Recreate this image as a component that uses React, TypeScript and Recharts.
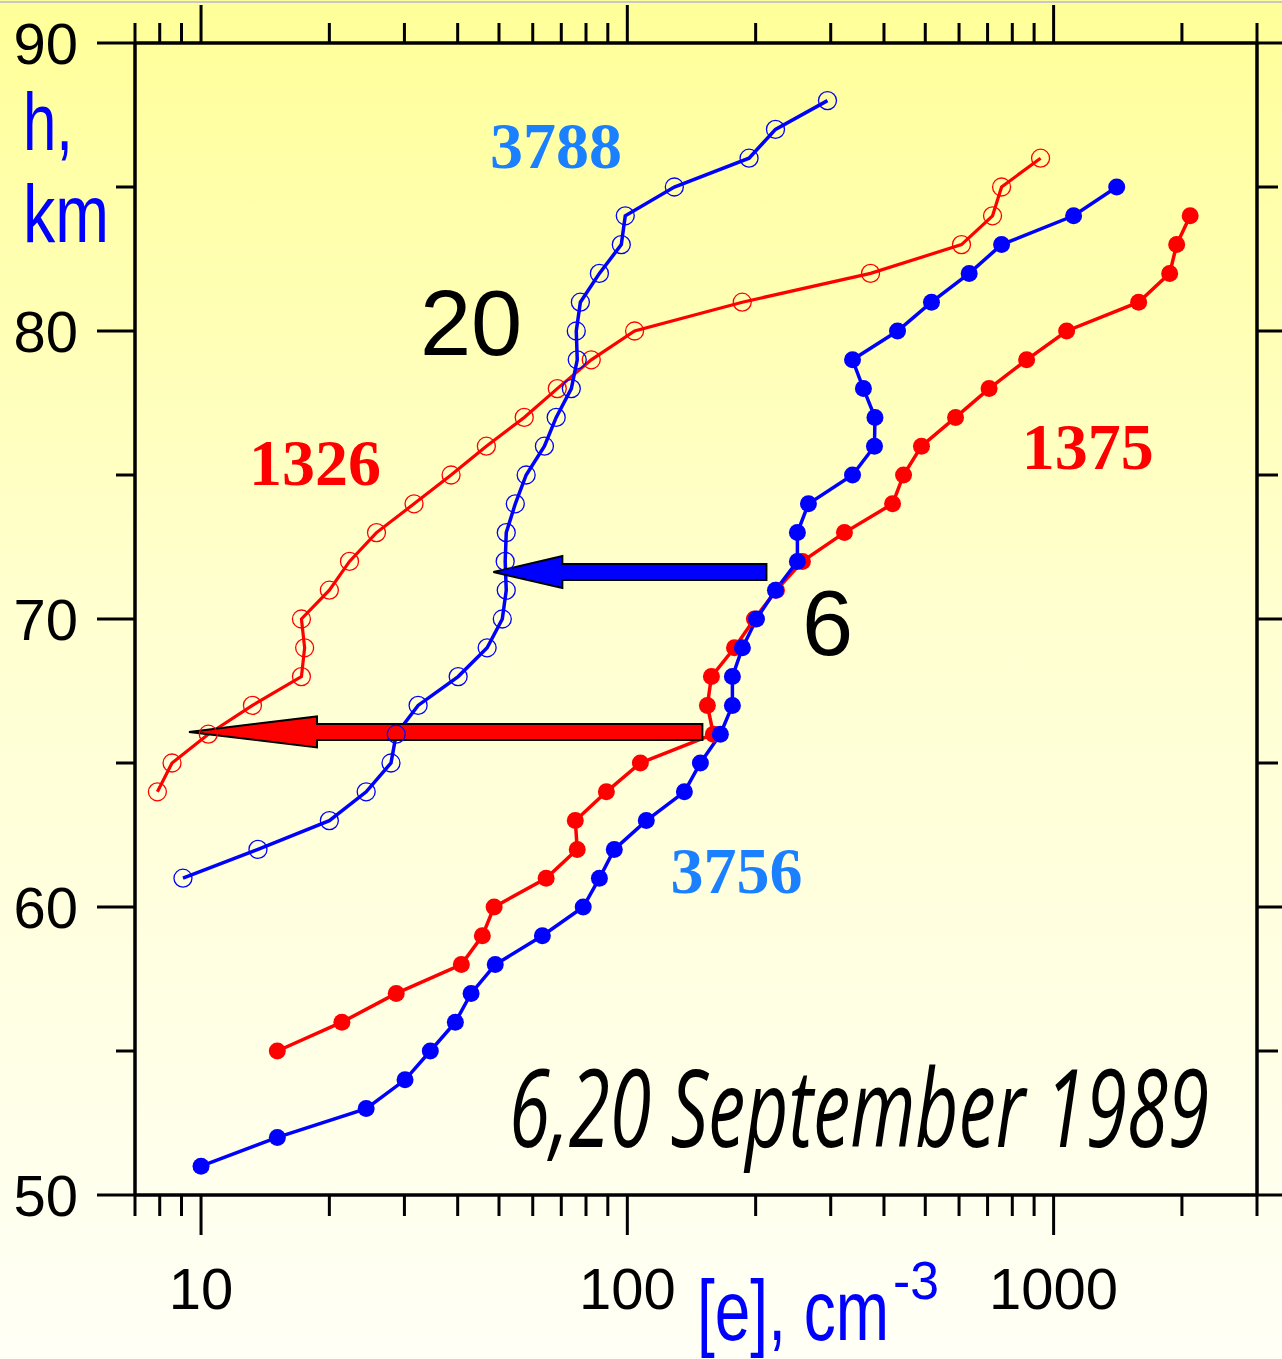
import React from "react";
import { ComposedChart, Line, XAxis, YAxis, ReferenceLine, ReferenceDot } from "recharts";

// Electron density profiles [e] vs altitude, 6 and 20 September 1989.
// Open circles = 20 Sep (1326 red, 3788 blue), filled = 6 Sep (1375 red, 3756 blue).

const xTicks = [7, 8, 9, 10, 20, 30, 40, 50, 60, 70, 80, 90, 100, 200, 300, 400, 500, 600, 700, 800, 900, 1000, 2000, 3000];
const xMajor = [10, 100, 1000];
const yTicks = [50, 55, 60, 65, 70, 75, 80, 85, 90];
const yMajor = [50, 60, 70, 80, 90];

const h1326 = [64, 65, 66, 67, 68, 69, 70, 71, 72, 73, 74, 75, 76, 77, 78, 79, 80, 81, 82, 83, 84, 85, 86];
const e1326 = [7.9, 8.55, 10.4, 13.2, 17.2, 17.5, 17.2, 20.0, 22.3, 25.8, 31.6, 38.6, 46.7, 57.3, 68.5, 82.3, 104, 186, 372, 608, 719, 755, 932];

const h3788 = [61, 62, 63, 64, 65, 66, 67, 68, 69, 70, 71, 72, 73, 74, 75, 76, 77, 78, 79, 80, 81, 82, 83, 84, 85, 86, 87, 88];
const e3788 = [9.07, 13.6, 20.0, 24.4, 27.9, 28.7, 32.3, 40.1, 46.9, 50.9, 52.0, 51.7, 52.0, 54.6, 57.9, 63.9, 68.1, 73.9, 76.3, 75.9, 77.6, 86.0, 96.8, 98.9, 128.9, 193, 222.6, 294.8];

const h1375 = [55, 56, 57, 58, 59, 60, 61, 62, 63, 64, 65, 66, 67, 68, 69, 70, 71, 72, 73, 74, 75, 76, 77, 78, 79, 80, 81, 82, 83, 84];
const e1375 = [15.1, 21.4, 28.7, 40.8, 45.7, 48.7, 64.5, 76.3, 75.5, 89.3, 107.3, 159.2, 154.1, 157.5, 178.4, 198.7, 223.8, 257.5, 323.1, 419, 444.6, 489.8, 588.8, 705.8, 864.3, 1073, 1583, 1872, 1944, 2091];

const h3756 = [51, 52, 53, 54, 55, 56, 57, 58, 59, 60, 61, 62, 63, 64, 65, 66, 67, 68, 69, 70, 71, 72, 73, 74, 75, 76, 77, 78, 79, 80, 81, 82, 83, 84, 85];
const e3756 = [10.0, 15.1, 24.4, 30.1, 34.5, 39.5, 43.0, 49.0, 63.2, 78.8, 86.0, 93.2, 110.8, 136.1, 148.4, 165.3, 176.4, 176.4, 186.2, 200.9, 222.6, 250.6, 250.6, 266.0, 337.5, 380, 381, 358, 337.5, 430.4, 517, 633.8, 755, 1114, 1406];

const rows = (hs: number[], es: number[]) => hs.map((h, i) => ({ x: es[i], h }));

// arrows: tail density -> tip density at altitude h
const arrows = [
  { from: 212, to: 48.5, h: 71.63, color: "#0000ff" },
  { from: 150, to: 9.37, h: 66.08, color: "#ff0000" },
];

const labels = [
  { text: "3788", x: 68, h: 85.66, kind: "num", color: "#1a80ff" },
  { text: "1326", x: 18.5, h: 74.65, kind: "num", color: "#ff0000" },
  { text: "1375", x: 1202, h: 75.21, kind: "num", color: "#ff0000" },
  { text: "3756", x: 180.3, h: 60.49, kind: "num", color: "#1a80ff" },
  { text: "20", x: 43, h: 79.17, kind: "day", color: "#000" },
  { text: "6", x: 294.8, h: 68.75, kind: "day", color: "#000" },
];

const SANS = "'Liberation Sans', Arial, sans-serif";
const SERIF = "'Liberation Serif', 'Times New Roman', serif";

const arrowGeom: Record<string, { len: number; head: number; shaft: number }> = {
  "#0000ff": { len: 69, head: 16, shaft: 8 },
  "#ff0000": { len: 128, head: 15.5, shaft: 8 },
};

function Arrow(p: any) {
  const { x1, x2, y1 } = p;
  const g = arrowGeom[p.color];
  const hb = x2 + g.len;
  const pts = [
    [x1, y1 - g.shaft], [hb, y1 - g.shaft], [hb, y1 - g.head], [x2, y1],
    [hb, y1 + g.head], [hb, y1 + g.shaft], [x1, y1 + g.shaft],
  ].map((q) => q.join(",")).join(" ");
  return <polygon points={pts} fill={p.color} stroke="#000" strokeWidth={2} />;
}

function BottomTick(p: any) {
  const v = p.payload.value;
  const major = xMajor.includes(v);
  return (
    <g>
      <line x1={p.x} x2={p.x} y1={p.y} y2={p.y + (major ? 40 : 21)} stroke="#000" strokeWidth={3} />
      {major && (
        <text x={p.x} y={p.y + 114} textAnchor="middle" fontFamily={SANS} fontSize={58} fill="#000">{v}</text>
      )}
    </g>
  );
}

function TopTick(p: any) {
  const major = xMajor.includes(p.payload.value);
  return <line x1={p.x} x2={p.x} y1={p.y} y2={p.y - (major ? 38 : 20)} stroke="#000" strokeWidth={3} />;
}

function LeftTick(p: any) {
  const v = p.payload.value;
  const major = yMajor.includes(v);
  return (
    <g>
      <line x1={p.x} x2={p.x - (major ? 38 : 19)} y1={p.y} y2={p.y} stroke="#000" strokeWidth={3} />
      {major && (
        <text x={p.x - 57} y={p.y + 21} textAnchor="end" fontFamily={SANS} fontSize={58} fill="#000">{v}</text>
      )}
    </g>
  );
}

function RightTick(p: any) {
  const major = yMajor.includes(p.payload.value);
  return <line x1={p.x} x2={p.x + (major ? 26 : 21)} y1={p.y} y2={p.y} stroke="#000" strokeWidth={3} />;
}

function Label(p: any) {
  const l = p.lab;
  const num = l.kind === "num";
  return (
    <text
      x={p.cx}
      y={p.cy}
      textAnchor="middle"
      fontFamily={num ? SERIF : SANS}
      fontWeight={num ? 700 : 400}
      fontSize={num ? 66 : 92}
      fill={l.color}
    >
      {l.text}
    </text>
  );
}

// condensed text: squeeze horizontally so the measured box matches what is drawn
function Narrow(props: { x: number; y: number; sx: number; w: number; size: number; children: string; style?: any }) {
  const { x, y, sx, w, size, children, style } = props;
  return (
    <text
      transform={`translate(${x},${y}) scale(${sx},1)`}
      x={0}
      y={0}
      fontSize={size}
      textLength={w / sx}
      lengthAdjust="spacingAndGlyphs"
      {...style}
    >
      {children}
    </text>
  );
}

const openDot = (c: string) => ({ r: 9, fill: "none", stroke: c, strokeWidth: 1.3 });
const fullDot = (c: string) => ({ r: 8.5, fill: c, stroke: c, strokeWidth: 0 });

export default function App() {
  const axisLine = { stroke: "#000", strokeWidth: 3.5 };
  return (
    <div
      style={{
        position: "absolute",
        left: 0,
        top: 0,
        width: 1282,
        height: 1359,
        background: "linear-gradient(to bottom, #ffff99 0%, #ffffd0 45%, #fffff6 100%)",
        overflow: "hidden",
      }}
    >
      <div style={{ position: "absolute", left: 0, top: 1, width: 1282, height: 2, background: "#c8c8cc" }} />
      <ComposedChart width={1282} height={1359} margin={{ top: 0, right: 0, bottom: 0, left: 0 }}>
        <XAxis
          type="number"
          dataKey="x"
          scale="log"
          domain={[7, 3000]}
          allowDataOverflow
          ticks={xTicks}
          interval={0}
          height={164}
          tickSize={0}
          tickMargin={0}
          tickLine={false}
          axisLine={axisLine}
          tick={(p: any) => <BottomTick {...p} />}
        />
        <XAxis
          xAxisId="top"
          orientation="top"
          type="number"
          dataKey="x"
          scale="log"
          domain={[7, 3000]}
          allowDataOverflow
          ticks={xTicks}
          interval={0}
          height={43}
          tickSize={0}
          tickMargin={0}
          tickLine={false}
          axisLine={axisLine}
          tick={(p: any) => <TopTick {...p} />}
        />
        <YAxis
          type="number"
          domain={[50, 90]}
          allowDataOverflow
          ticks={yTicks}
          interval={0}
          width={135}
          tickSize={0}
          tickMargin={0}
          tickLine={false}
          axisLine={axisLine}
          tick={(p: any) => <LeftTick {...p} />}
        />
        <YAxis
          yAxisId="right"
          orientation="right"
          type="number"
          domain={[50, 90]}
          allowDataOverflow
          ticks={yTicks}
          interval={0}
          width={25}
          tickSize={0}
          tickMargin={0}
          tickLine={false}
          axisLine={axisLine}
          tick={(p: any) => <RightTick {...p} />}
        />

        <Line data={rows(h1326, e1326)} dataKey="h" stroke="#ff0000" strokeWidth={3.2} dot={openDot("#ff0000")} isAnimationActive={false} />
        <Line data={rows(h3788, e3788)} dataKey="h" stroke="#0000ff" strokeWidth={3.5} dot={openDot("#0000ff")} isAnimationActive={false} />
        <Line data={rows(h1375, e1375)} dataKey="h" stroke="#ff0000" strokeWidth={3.5} dot={fullDot("#ff0000")} isAnimationActive={false} />
        <Line data={rows(h3756, e3756)} dataKey="h" stroke="#0000ff" strokeWidth={3.5} dot={fullDot("#0000ff")} isAnimationActive={false} />

        {arrows.map((a) => (
          <ReferenceLine
            key={a.color}
            segment={[{ x: a.from, y: a.h }, { x: a.to, y: a.h }]}
            shape={(p: any) => <Arrow {...p} color={a.color} />}
          />
        ))}
        {labels.map((l) => (
          <ReferenceDot key={l.text} x={l.x} y={l.h} r={0} shape={(p: any) => <Label {...p} lab={l} />} />
        ))}
        <ReferenceDot
          x={52.8}
          y={51.67}
          r={0}
          shape={(p: any) => (
            <Narrow
              x={p.cx}
              y={p.cy}
              sx={0.666}
              w={700}
              size={108}
              style={{ fontFamily: "'Open Sans', 'DejaVu Sans', sans-serif", fontStyle: "italic", fill: "#000" }}
            >
              6,20 September 1989
            </Narrow>
          )}
        />
      </ComposedChart>
      <svg width={1282} height={1359} style={{ position: "absolute", left: 0, top: 0, pointerEvents: "none" }}>
        <g fontFamily={SANS} fill="#0000ff">
          <Narrow x={23} y={150} sx={0.78} w={50} size={81}>h,</Narrow>
          <Narrow x={23} y={242} sx={0.8} w={86} size={81}>km</Narrow>
          <Narrow x={697} y={1340} sx={0.76} w={192} size={85}>[e], cm</Narrow>
          <text x={893} y={1299} fontSize={54} textLength={46} lengthAdjust="spacingAndGlyphs">-3</text>
        </g>
      </svg>
    </div>
  );
}
